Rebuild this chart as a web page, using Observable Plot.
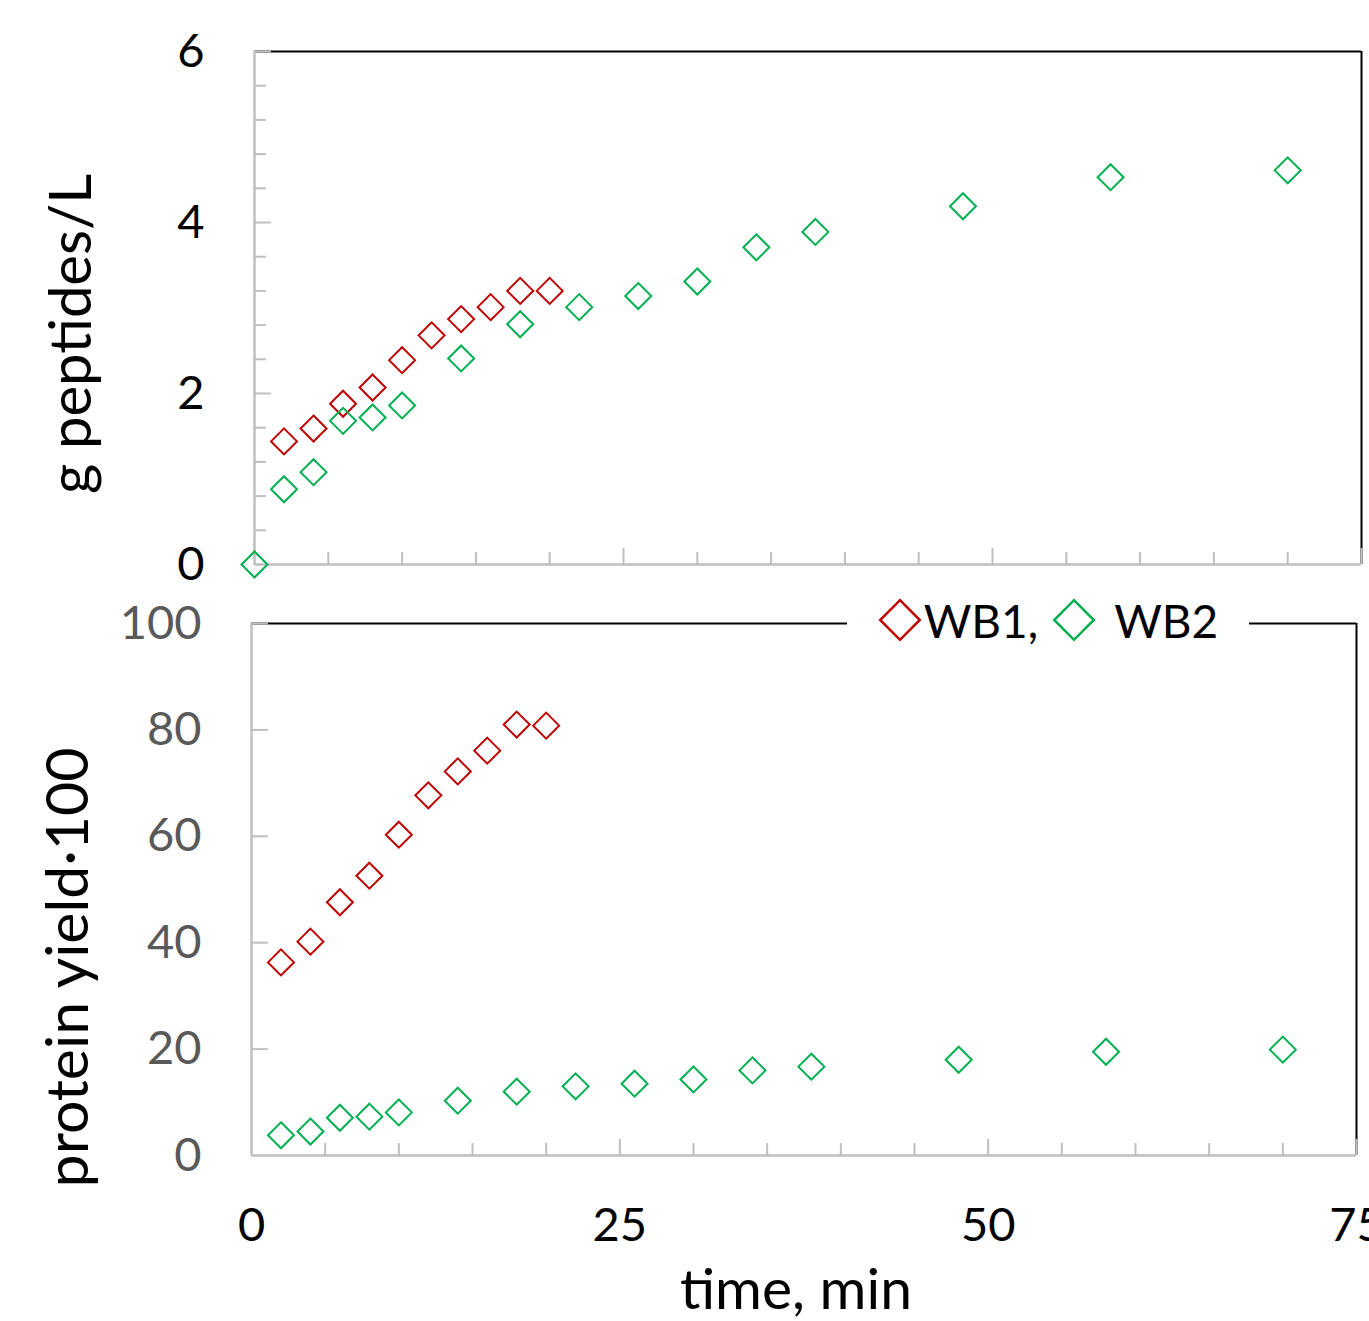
<!DOCTYPE html>
<html>
<head>
<meta charset="utf-8">
<script src="https://cdn.jsdelivr.net/npm/d3@7"></script>
<script src="https://cdn.jsdelivr.net/npm/@observablehq/plot@0.6"></script>
<style>
  html, body { margin: 0; padding: 0; background: #fff; }
  #wrap { position: relative; width: 1369px; height: 1321px; overflow: hidden; font-family: Lato, "Open Sans", sans-serif; }
  #top, #bottom { position: absolute; left: 0; }
  #top { top: 0; }
  #bottom { top: 590px; }
  #legend { position: absolute; left: 847px; top: 594px; width: 402px; height: 52px; background: #fff;
            display: flex; align-items: center; justify-content: center; font-size: 46px; color: #000; }
  #legend svg { display: block; }
</style>
</head>
<body>
<div id="wrap">
  <div id="top"></div>
  <div id="bottom"></div>
  <div id="legend"></div>
</div>
<script>
// ---------- data ----------
const wb1Time = [2, 4, 6, 8, 10, 12, 14, 16, 18, 20];
const wb1Peptides = [1.44, 1.59, 1.88, 2.07, 2.39, 2.68, 2.87, 3.01, 3.20, 3.20];
const wb1Yield = [36.3, 40.2, 47.6, 52.6, 60.3, 67.7, 72.2, 76.1, 81.0, 80.8];

const wb2TimeTop = [0, 2, 4, 6, 8, 10, 14, 18, 22, 26, 30, 34, 38, 48, 58, 70];
const wb2Peptides = [0, 0.88, 1.08, 1.68, 1.72, 1.86, 2.41, 2.81, 3.01, 3.14, 3.31, 3.71, 3.89, 4.19, 4.53, 4.61];
const wb2TimeBottom = [2, 4, 6, 8, 10, 14, 18, 22, 26, 30, 34, 38, 48, 58, 70];
const wb2Yield = [3.8, 4.5, 7.1, 7.3, 8.1, 10.3, 12.0, 13.0, 13.5, 14.3, 16.0, 16.7, 18.0, 19.5, 19.9];

const seriesNames = ["WB1,", "WB2"];
const seriesColors = ["#c00000", "#00b050"];

const xDomain = [0, 75];
const xLabelTicks = [0, 25, 50, 75];
const xMajorTicks = [25, 50, 75];
const xMinorTicks = [5, 10, 15, 20, 30, 35, 40, 45, 55, 60, 65, 70];

const topYDomain = [0, 6];
const topYLabelTicks = [0, 2, 4, 6];
const topYMajorTicks = [2, 4, 6];
const topYMinorTicks = [0.4, 0.8, 1.2, 1.6, 2.4, 2.8, 3.2, 3.6, 4.4, 4.8, 5.2, 5.6];

const botYDomain = [0, 100];
const botYLabelTicks = [0, 20, 40, 60, 80, 100];
const botYMajorTicks = [20, 40, 60, 80, 100];

const topYTitle = "g peptides/L";
const botYTitle = "protein yield·100";
const xTitle = "time, min";

// ---------- build tables ----------
const topPoints = [
  ...wb1Time.map((t, i) => ({t, v: wb1Peptides[i], s: seriesNames[0]})),
  ...wb2TimeTop.map((t, i) => ({t, v: wb2Peptides[i], s: seriesNames[1]}))
];
const botPoints = [
  ...wb1Time.map((t, i) => ({t, v: wb1Yield[i], s: seriesNames[0]})),
  ...wb2TimeBottom.map((t, i) => ({t, v: wb2Yield[i], s: seriesNames[1]}))
];

const FONT = "Lato, 'Open Sans', sans-serif";
const GRAY = "#bfbfbf";
const W = 1369;
const symR = 11.7;

function panel({height, mt, mb, ml, mr, yDomain, yLabelTicks, yMajor, yMinor, points, yTitle, titleDx, titleDy, titleSize, labelColor, showX}) {
  const plotW = W - ml - mr;
  const plotH = height - mt - mb;
  const marks = [
    // black frame (top, right)
    Plot.ruleY([yDomain[1]], {stroke: "#000", strokeWidth: 2}),
    Plot.ruleX([xDomain[1]], {stroke: "#000", strokeWidth: 2}),
    // gray axes (left, bottom)
    Plot.ruleX([xDomain[0]], {stroke: GRAY, strokeWidth: 2.5}),
    Plot.ruleY([yDomain[0]], {stroke: GRAY, strokeWidth: 2.5}),
    // inward y ticks
    Plot.tickY(yMajor, {y: d => d, stroke: GRAY, strokeWidth: 2, insetRight: plotW - 17}),
    Plot.tickY(yMinor, {y: d => d, stroke: GRAY, strokeWidth: 2, insetRight: plotW - 12}),
    // inward x ticks
    Plot.tickX(xMajorTicks, {x: d => d, stroke: GRAY, strokeWidth: 2, insetTop: plotH - 16}),
    Plot.tickX(xMinorTicks, {x: d => d, stroke: GRAY, strokeWidth: 2, insetTop: plotH - 12}),
    Plot.axisY({ticks: yLabelTicks, tickSize: 0, tickPadding: 50, fontSize: 47, color: labelColor, tickFormat: d => String(d), label: null}),
    Plot.text([yTitle], {frameAnchor: "left", textAnchor: "middle", lineAnchor: "middle", rotate: -90, dx: titleDx, dy: titleDy, fontSize: titleSize, fill: "#000"}),
    Plot.dot(points, {x: "t", y: "v", stroke: "s", symbol: "diamond2", r: symR, strokeWidth: 2, fill: "none"})
  ];
  if (showX) {
    marks.push(Plot.axisX({ticks: xLabelTicks, tickSize: 0, tickPadding: 52, fontSize: 47, color: "#000", tickFormat: d => String(d), label: null}));
    marks.push(Plot.text([xTitle], {frameAnchor: "bottom", textAnchor: "middle", lineAnchor: "middle", dx: -8, dy: 135, fontSize: 57, fill: "#000"}));
  }
  return Plot.plot({
    width: W, height,
    marginTop: mt, marginBottom: mb, marginLeft: ml, marginRight: mr,
    x: {domain: xDomain, axis: null},
    y: {domain: yDomain, axis: null},
    color: {domain: seriesNames, range: seriesColors},
    style: {fontFamily: FONT, background: "transparent", overflow: "visible"},
    marks
  });
}

const topChart = panel({
  height: 590, mt: 51, mb: 26, ml: 254, mr: 8,
  yDomain: topYDomain, yLabelTicks: topYLabelTicks, yMajor: topYMajorTicks, yMinor: topYMinorTicks,
  points: topPoints, yTitle: topYTitle, titleDx: -182, titleDy: 26, titleSize: 58, labelColor: "#000", showX: false
});
const botChart = panel({
  height: 731, mt: 33, mb: 166, ml: 251, mr: 13,
  yDomain: botYDomain, yLabelTicks: botYLabelTicks, yMajor: botYMajorTicks, yMinor: [],
  points: botPoints, yTitle: botYTitle, titleDx: -182, titleDy: 78, titleSize: 59, labelColor: "#595959", showX: true
});
document.getElementById("top").appendChild(topChart);
document.getElementById("bottom").appendChild(botChart);

// legend
const legend = d3.select("#legend");
seriesNames.forEach((name, i) => {
  const item = legend.append("span").style("display", "flex").style("align-items", "center")
    .style("margin-right", i === 0 ? "14px" : "0");
  const s = item.append("svg").attr("width", 44).attr("height", 44).attr("viewBox", "-22 -22 44 44");
  s.append("path").attr("d", d3.symbol(d3.symbolDiamond2, 1000)()).attr("fill", "none")
    .attr("stroke", seriesColors[i]).attr("stroke-width", 2.5);
  item.append("span").text(name).style("margin-left", i === 0 ? "2px" : "18px");
});
</script>
</body>
</html>
